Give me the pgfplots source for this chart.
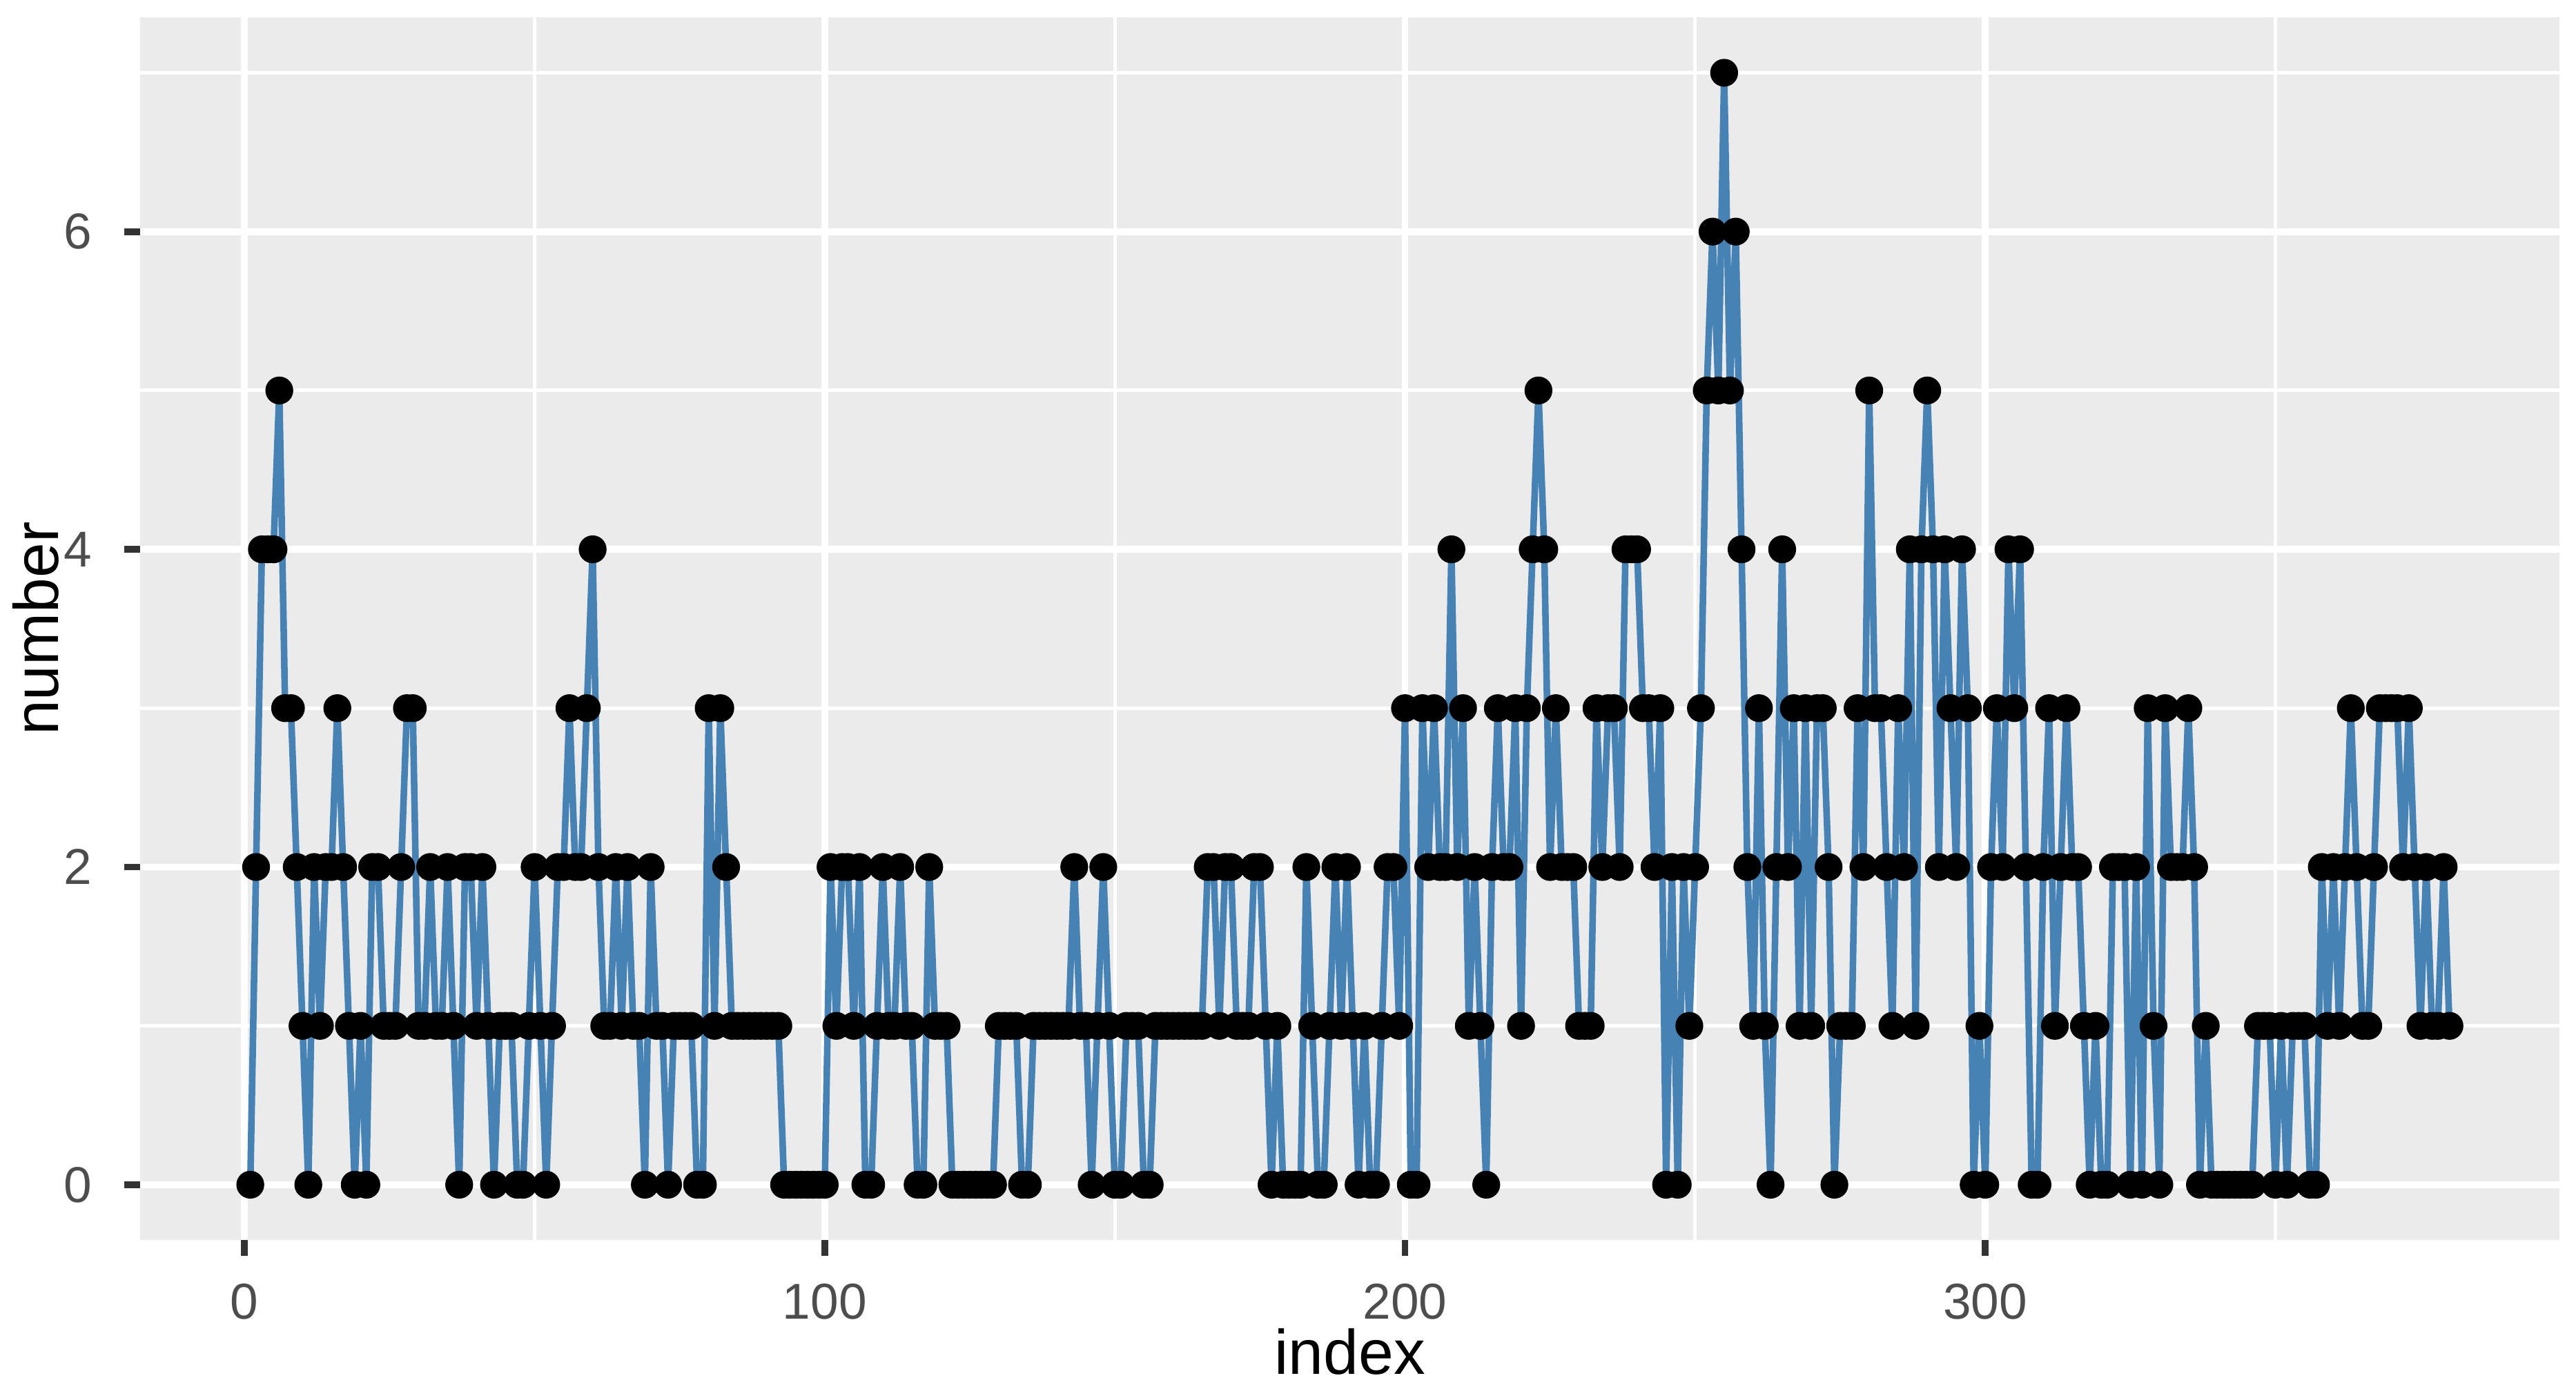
\documentclass[border=0pt]{standalone}
\usepackage{fontspec}
\setmainfont{Liberation Sans}
\usepackage{pgfplots}
\pgfplotsset{compat=1.18}

\definecolor{panelbg}{HTML}{EBEBEB}
\definecolor{steelblue}{HTML}{4682B4}
\definecolor{ticktext}{HTML}{4D4D4D}
\definecolor{tickmark}{HTML}{333333}

\begin{document}
\begin{tikzpicture}
\begin{axis}[
  scale only axis,
  width=422.3pt, height=213.6pt,
  xmin=-17.95, xmax=398.95,
  ymin=-0.35, ymax=7.35,
  axis background/.style={fill=panelbg},
  axis line style={draw=none},
  xtick={0,100,200,300}, ytick={0,2,4,6},
  minor xtick={50,150,250,350}, minor ytick={1,3,5,7},
  grid=both,
  major grid style={white, line width=1.2pt},
  minor grid style={white, line width=0.6pt},
  tick align=outside, xtick pos=bottom, ytick pos=left,
  major tick length=2.75pt, minor tick length=0pt,
  tick style={tickmark, line width=1.2pt},
  /pgf/number format/assume math mode=true,
  ticklabel style={font=\fontsize{8.8}{10}\selectfont, text=ticktext, inner sep=0pt},
  xticklabel style={anchor=center, yshift=-7.95pt},
  yticklabel style={anchor=east, xshift=-5.5pt},
  xlabel={index}, ylabel={number},
  label style={font=\fontsize{11}{13}\selectfont, inner sep=0pt},
  xlabel style={at={(axis description cs:0.5,-0.0908)}, anchor=center},
  ylabel style={at={(axis description cs:-0.0431,0.5)}, anchor=center},
  clip=false,
]
% series: one value per index 1..380
\pgfplotstableread{
x y
1 0
2 2
3 4
4 4
5 4
6 5
7 3
8 3
9 2
10 1
11 0
12 2
13 1
14 2
15 2
16 3
17 2
18 1
19 0
20 1
21 0
22 2
23 2
24 1
25 1
26 1
27 2
28 3
29 3
30 1
31 1
32 2
33 1
34 1
35 2
36 1
37 0
38 2
39 2
40 1
41 2
42 1
43 0
44 1
45 1
46 1
47 0
48 0
49 1
50 2
51 1
52 0
53 1
54 2
55 2
56 3
57 2
58 2
59 3
60 4
61 2
62 1
63 1
64 2
65 1
66 2
67 1
68 1
69 0
70 2
71 1
72 1
73 0
74 1
75 1
76 1
77 1
78 0
79 0
80 3
81 1
82 3
83 2
84 1
85 1
86 1
87 1
88 1
89 1
90 1
91 1
92 1
93 0
94 0
95 0
96 0
97 0
98 0
99 0
100 0
101 2
102 1
103 2
104 2
105 1
106 2
107 0
108 0
109 1
110 2
111 1
112 1
113 2
114 1
115 1
116 0
117 0
118 2
119 1
120 1
121 1
122 0
123 0
124 0
125 0
126 0
127 0
128 0
129 0
130 1
131 1
132 1
133 1
134 0
135 0
136 1
137 1
138 1
139 1
140 1
141 1
142 1
143 2
144 1
145 1
146 0
147 1
148 2
149 1
150 0
151 0
152 1
153 1
154 1
155 0
156 0
157 1
158 1
159 1
160 1
161 1
162 1
163 1
164 1
165 1
166 2
167 2
168 1
169 2
170 2
171 1
172 1
173 1
174 2
175 2
176 1
177 0
178 1
179 0
180 0
181 0
182 0
183 2
184 1
185 0
186 0
187 1
188 2
189 1
190 2
191 1
192 0
193 1
194 0
195 0
196 1
197 2
198 2
199 1
200 3
201 0
202 0
203 3
204 2
205 3
206 2
207 2
208 4
209 2
210 3
211 1
212 2
213 1
214 0
215 2
216 3
217 2
218 2
219 3
220 1
221 3
222 4
223 5
224 4
225 2
226 3
227 2
228 2
229 2
230 1
231 1
232 1
233 3
234 2
235 3
236 3
237 2
238 4
239 4
240 4
241 3
242 3
243 2
244 3
245 0
246 2
247 0
248 2
249 1
250 2
251 3
252 5
253 6
254 5
255 7
256 5
257 6
258 4
259 2
260 1
261 3
262 1
263 0
264 2
265 4
266 2
267 3
268 1
269 3
270 1
271 3
272 3
273 2
274 0
275 1
276 1
277 1
278 3
279 2
280 5
281 3
282 3
283 2
284 1
285 3
286 2
287 4
288 1
289 4
290 5
291 4
292 2
293 4
294 3
295 2
296 4
297 3
298 0
299 1
300 0
301 2
302 3
303 2
304 4
305 3
306 4
307 2
308 0
309 0
310 2
311 3
312 1
313 2
314 3
315 2
316 2
317 1
318 0
319 1
320 0
321 0
322 2
323 2
324 2
325 0
326 2
327 0
328 3
329 1
330 0
331 3
332 2
333 2
334 2
335 3
336 2
337 0
338 1
339 0
340 0
341 0
342 0
343 0
344 0
345 0
346 0
347 1
348 1
349 1
350 0
351 1
352 0
353 1
354 1
355 1
356 0
357 0
358 2
359 1
360 2
361 1
362 2
363 3
364 2
365 1
366 1
367 2
368 3
369 3
370 3
371 3
372 2
373 3
374 2
375 1
376 2
377 1
378 1
379 2
380 1
}\counts
\addplot[steelblue, line width=1.15pt, mark=none] table[x=x, y=y] {\counts};
\addplot[only marks, mark=*, mark size=2.23pt, mark options={fill=black, draw=none}] table[x=x, y=y] {\counts};
\coordinate (ll) at (rel axis cs:0,0);
\coordinate (ur) at (rel axis cs:1,1);
\end{axis}
\pgfresetboundingbox
\path[use as bounding box] ([shift={(-24.5pt,-27.5pt)}]ll) rectangle ([shift={(2.9pt,3.0pt)}]ur);
\end{tikzpicture}
\end{document}
